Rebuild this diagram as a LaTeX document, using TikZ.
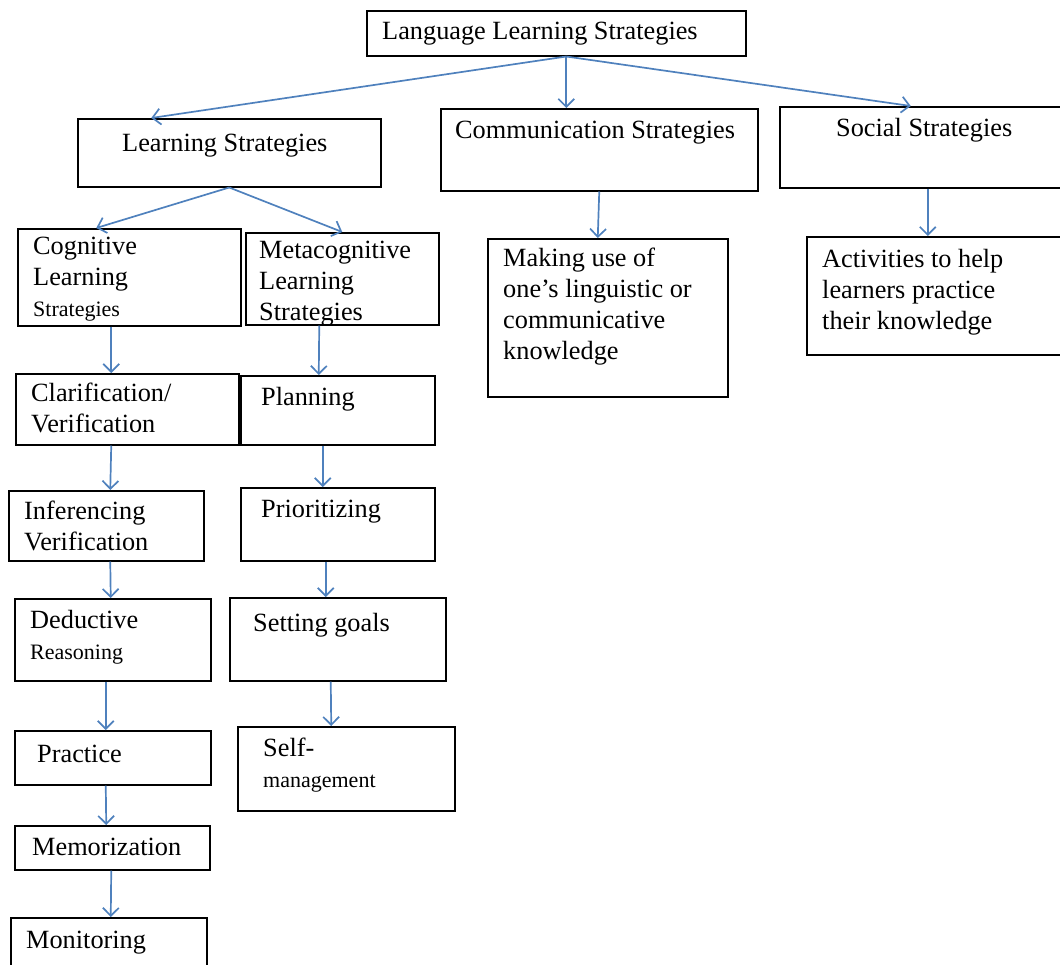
\documentclass[tikz,border=0pt]{standalone}
\usepackage{fontspec}
\setmainfont{Liberation Serif}
\usetikzlibrary{arrows.meta, calc, positioning}
\definecolor{arrowblue}{HTML}{4F81BD}
\newcommand{\smallword}[1]{{\fontsize{22}{31}\selectfont #1}}

\begin{document}
\begin{tikzpicture}[x=1pt, y=-1pt,
    box/.style={draw, line width=1.5pt, inner sep=0pt, anchor=north west},
    txt/.style={anchor=base west, inner sep=0pt, align=left, font=\fontsize{26.3}{31}\selectfont},
    arr/.style={draw=arrowblue, line width=1.7pt, -{Straight Barb[length=8pt, width=16pt]}}]
    \path[use as bounding box, clip] (0,0) rectangle (1060,964);
    % boxes: name / left / top / width / height
    \foreach \name/\x/\y/\w/\h in {lls/366/10/379/45, ls/77/118/303/68, cs/440/108/317/82,
        ss/779/106/300/81, cog/17/228/223/97, meta/245/232/193/92, mu/487/238/240/158,
        act/806/236/270/118, clar/15/373/223/71, plan/240/375/194/69, inf/8/490/195/70,
        prio/240/487/194/73, ded/14/598/196/82, goal/229/597/216/83, self/237/726/217/84,
        prac/14/730/196/54, mem/14/825/195/44, mon/10/917/196/60}{
      \node[box, minimum width=\w, minimum height=\h] (\name) at (\x,\y) {};
    };
    % texts (base = last line)
    \node[txt] (lls-t) at (382,39) {Language Learning Strategies};
    \node[txt] (ls-t) at (122,151) {Learning Strategies};
    \node[txt] (cs-t) at (455,138) {Communication Strategies};
    \node[txt] (ss-t) at (836,136) {Social Strategies};
    \node[txt] (cog-t) at (33,316) {Cognitive\\Learning\\\smallword{Strategies}};
    \node[txt] (meta-t) at (259,320) {Metacognitive\\Learning\\Strategies};
    \node[txt] (mu-t) at (503,359) {Making use of\\one’s linguistic or\\communicative\\knowledge};
    \node[txt] (act-t) at (822,329) {Activities to help\\learners practice\\their knowledge};
    \node[txt] (clar-t) at (31,432) {Clarification/\\Verification};
    \node[txt] (plan-t) at (261,405) {Planning};
    \node[txt] (inf-t) at (24,550) {Inferencing\\Verification};
    \node[txt] (prio-t) at (261,517) {Prioritizing};
    \node[txt] (ded-t) at (30,659) {Deductive\\\smallword{Reasoning}};
    \node[txt] (goal-t) at (253,631) {Setting goals};
    \node[txt] (self-t) at (263,787) {Self-\\\smallword{management}};
    \node[txt] (prac-t) at (37,762) {Practice};
    \node[txt] (mem-t) at (32,855) {Memorization};
    \node[txt] (mon-t) at (26,948) {Monitoring};
    % connectors
    \draw[arr] ([xshift=10]lls.south) -- ([xshift=-78]ls.north);
    \draw[arr] ([xshift=10]lls.south) -- ([xshift=-33]cs.north);
    \draw[arr] ([xshift=10]lls.south) -- ([xshift=-19]ss.north);
    \draw[arr] (ls.south) -- ([xshift=-33]cog.north);
    \draw[arr] (ls.south) -- (meta.north);
    \draw[arr] ([xshift=-18]cog.south) -- ([xshift=-16]clar.north);
    \draw[arr] ([xshift=-16]clar.south) -- ([xshift=4]inf.north);
    \draw[arr] ([xshift=4]inf.south) -- ([xshift=-2]ded.north);
    \draw[arr] ([xshift=-7]ded.south) -- ([xshift=-7]prac.north);
    \draw[arr] ([xshift=-7]prac.south) -- ([xshift=-6]mem.north);
    \draw[arr] ([xshift=-1]mem.south) -- ([xshift=2]mon.north);
    \draw[arr] ([xshift=-23]meta.south) -- ([xshift=-19]plan.north);
    \draw[arr] ([xshift=-15]plan.south) -- ([xshift=-15]prio.north);
    \draw[arr] ([xshift=-12]prio.south) -- ([xshift=-12]goal.north);
    \draw[arr] ([xshift=-7]goal.south) -- ([xshift=-15]self.north);
    \draw[arr] (cs.south) -- ([xshift=-10]mu.north);
    \draw[arr] ([xshift=-2]ss.south) -- ([xshift=-14]act.north);
\end{tikzpicture}
\end{document}
